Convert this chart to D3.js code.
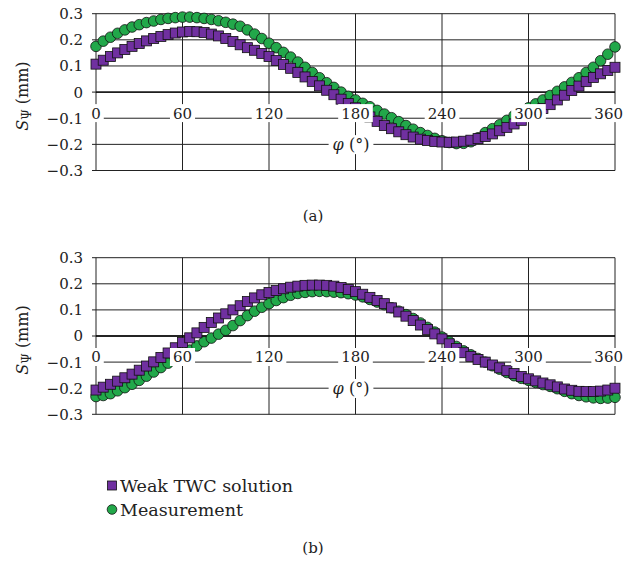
<!DOCTYPE html>
<html>
<head>
<meta charset="utf-8">
<script src="https://cdn.jsdelivr.net/npm/d3@7"></script>
<style>
  body { margin: 0; background: #fff; }
  svg { display: block; font-family: "DejaVu Serif", serif; }
</style>
</head>
<body>
<div id="chart"></div>
<script>
// angle of each sample (deg)
var angles = [0,5,10,15,20,25,30,35,40,45,50,55,60,65,70,75,80,85,90,95,100,105,110,115,120,
  125,130,135,140,145,150,155,160,165,170,175,180,185,190,195,200,205,210,215,220,225,230,235,
  240,245,250,255,260,265,270,275,280,285,290,295,300,305,310,315,320,325,330,335,340,345,350,355,360];

// panel (a)
var weakA = [0.107,0.122,0.136,0.15,0.163,0.175,0.186,0.196,0.205,0.213,0.22,0.226,0.23,0.232,0.231,
  0.228,0.222,0.215,0.205,0.194,0.181,0.17,0.16,0.148,0.136,0.121,0.106,0.091,0.075,0.058,0.041,0.024,
  0.007,-0.01,-0.027,-0.044,-0.06,-0.077,-0.095,-0.112,-0.128,-0.14,-0.152,-0.163,-0.172,-0.18,-0.185,
  -0.189,-0.191,-0.192,-0.191,-0.188,-0.184,-0.178,-0.17,-0.16,-0.148,-0.135,-0.122,-0.108,-0.093,
  -0.078,-0.063,-0.048,-0.03,-0.012,0.006,0.023,0.04,0.056,0.07,0.083,0.095];
var measA = [0.175,0.195,0.21,0.225,0.238,0.249,0.258,0.266,0.272,0.278,0.282,0.285,0.287,0.287,0.285,
  0.282,0.278,0.273,0.267,0.26,0.252,0.238,0.222,0.205,0.187,0.17,0.152,0.134,0.115,0.095,0.075,0.055,
  0.036,0.018,0.0,-0.016,-0.03,-0.043,-0.056,-0.07,-0.084,-0.098,-0.113,-0.128,-0.142,-0.155,-0.166,
  -0.177,-0.186,-0.193,-0.197,-0.196,-0.19,-0.175,-0.155,-0.14,-0.125,-0.108,-0.09,-0.075,-0.06,
  -0.045,-0.03,-0.013,0.003,0.02,0.037,0.055,0.075,0.095,0.12,0.145,0.173];

// panel (b)
var weakB = [-0.207,-0.196,-0.185,-0.173,-0.16,-0.146,-0.131,-0.115,-0.099,-0.082,-0.065,-0.045,-0.025,
  -0.007,0.012,0.033,0.052,0.069,0.085,0.1,0.116,0.132,0.146,0.158,0.167,0.174,0.181,0.187,0.191,0.194,
  0.195,0.195,0.194,0.191,0.186,0.178,0.17,0.16,0.148,0.136,0.124,0.108,0.092,0.076,0.059,0.042,0.025,
  0.008,-0.011,-0.03,-0.048,-0.064,-0.078,-0.09,-0.1,-0.111,-0.122,-0.133,-0.144,-0.155,-0.164,-0.172,
  -0.18,-0.187,-0.195,-0.203,-0.208,-0.212,-0.213,-0.213,-0.211,-0.207,-0.2];
var measB = [-0.232,-0.228,-0.221,-0.21,-0.198,-0.185,-0.17,-0.154,-0.138,-0.121,-0.104,-0.087,-0.07,
  -0.054,-0.038,-0.022,-0.008,0.007,0.022,0.04,0.059,0.078,0.095,0.11,0.124,0.136,0.147,0.156,0.163,
  0.167,0.17,0.171,0.17,0.168,0.166,0.162,0.157,0.15,0.14,0.13,0.12,0.108,0.095,0.082,0.067,0.05,0.033,
  0.015,-0.004,-0.022,-0.04,-0.057,-0.072,-0.086,-0.1,-0.114,-0.127,-0.14,-0.152,-0.162,-0.17,-0.178,
  -0.186,-0.193,-0.202,-0.212,-0.221,-0.228,-0.233,-0.237,-0.239,-0.238,-0.235];

var xTicks = [0, 60, 120, 180, 240, 300, 360];
var yTicks = [-0.3, -0.2, -0.1, 0, 0.1, 0.2, 0.3];
var seriesNames = ["Weak TWC solution", "Measurement"];
var seriesColors = ["#7030a0", "#22a84a"];

var W = 624, H = 562;
var svg = d3.select("#chart").append("svg").attr("width", W).attr("height", H);

var x = d3.scaleLinear().domain([0, 360]).range([96, 615]);
var fmtY = function(d) { return d === 0 ? "0" : d3.format(".1f")(d).replace("-", "\u2212"); };

function drawPanel(top, bottom, weak, meas, tag, tagY) {
  var y = d3.scaleLinear().domain([-0.3, 0.3]).range([bottom, top]);
  var g = svg.append("g");

  // grid
  g.selectAll(".hg").data(yTicks).enter().append("line")
    .attr("x1", x(0) - 4).attr("x2", x(360))
    .attr("y1", function(d) { return y(d); }).attr("y2", function(d) { return y(d); })
    .attr("stroke", "#222").attr("stroke-width", 1);
  g.selectAll(".vg").data(xTicks).enter().append("line")
    .attr("x1", function(d) { return x(d); }).attr("x2", function(d) { return x(d); })
    .attr("y1", y(0.3)).attr("y2", y(-0.3))
    .attr("stroke", "#222").attr("stroke-width", 1);
  g.append("line").attr("x1", x(0)).attr("x2", x(360)).attr("y1", y(0)).attr("y2", y(0))
    .attr("stroke", "#000").attr("stroke-width", 1.3);

  // y tick labels
  g.selectAll(".yl").data(yTicks).enter().append("text")
    .attr("x", 83).attr("y", function(d) { return y(d); }).attr("dy", "0.36em")
    .attr("text-anchor", "end").attr("font-size", 15).attr("fill", "#222")
    .text(fmtY);

  // y title
  var yt = g.append("text")
    .attr("transform", "translate(28," + ((top + bottom) / 2 + 4) + ") rotate(-90)")
    .attr("text-anchor", "middle").attr("font-size", 16).attr("fill", "#222");
  yt.append("tspan").attr("font-style", "italic").text("S");
  yt.append("tspan").attr("font-size", 12).attr("dy", 3).text("\u03a8");
  yt.append("tspan").attr("dy", -3).text(" (mm)");

  // series: measurement first, weak solution on top
  var pts = angles.map(function(a, i) { return { a: a, w: weak[i], m: meas[i] }; });
  g.selectAll(".m").data(pts).enter().append("circle")
    .attr("cx", function(d) { return x(d.a); }).attr("cy", function(d) { return y(d.m); })
    .attr("r", 5.3).attr("fill", seriesColors[1]).attr("stroke", "#111").attr("stroke-width", 0.8);
  g.selectAll(".w").data(pts).enter().append("rect")
    .attr("x", function(d) { return x(d.a) - 5; }).attr("y", function(d) { return y(d.w) - 5; })
    .attr("width", 10).attr("height", 10)
    .attr("fill", seriesColors[0]).attr("stroke", "#111").attr("stroke-width", 0.8);

  // x tick labels with white boxes, sitting below the zero line
  var labY = y(0) + 21;
  xTicks.forEach(function(t) {
    var txt = g.append("text").attr("x", x(t)).attr("y", labY).attr("dy", "0.36em")
      .attr("text-anchor", "middle").attr("font-size", 15).attr("fill", "#222").text(t);
    var bb = txt.node().getBBox();
    // keep the last label inside the page
    if (bb.x + bb.width > W - 1) {
      txt.attr("x", W - 1 - bb.width / 2);
      bb = txt.node().getBBox();
    }
    g.insert("rect", function() { return txt.node(); })
      .attr("x", bb.x - 3).attr("y", labY - 9).attr("width", bb.width + 6).attr("height", 18)
      .attr("fill", "#fff");
  });

  // x title
  var xt = g.append("text").attr("x", 351).attr("y", y(-0.2)).attr("dy", "0.36em")
    .attr("text-anchor", "middle").attr("font-size", 16).attr("fill", "#222");
  xt.append("tspan").attr("font-style", "italic").text("\u03c6");
  xt.append("tspan").text(" (\u00b0)");
  var xb = xt.node().getBBox();
  g.insert("rect", function() { return xt.node(); })
    .attr("x", xb.x - 4).attr("y", xb.y).attr("width", xb.width + 8).attr("height", xb.height)
    .attr("fill", "#fff");

  svg.append("text").attr("x", 313).attr("y", tagY).attr("text-anchor", "middle")
    .attr("font-size", 15).attr("fill", "#222").text(tag);
}

drawPanel(13.7, 170.5, weakA, measA, "(a)", 221);
drawPanel(257.7, 414.3, weakB, measB, "(b)", 553);

// legend
var leg = svg.append("g");
leg.append("rect").attr("x", 107.5).attr("y", 481).attr("width", 9).attr("height", 9)
  .attr("fill", seriesColors[0]).attr("stroke", "#111").attr("stroke-width", 0.8);
leg.append("circle").attr("cx", 112).attr("cy", 509.5).attr("r", 4.8)
  .attr("fill", seriesColors[1]).attr("stroke", "#111").attr("stroke-width", 0.8);
leg.selectAll(".lt").data(seriesNames).enter().append("text")
  .attr("x", 120).attr("y", function(d, i) { return 492 + i * 23.5; })
  .attr("font-size", 17.5).attr("fill", "#222").text(function(d) { return d; });
</script>
</body>
</html>
